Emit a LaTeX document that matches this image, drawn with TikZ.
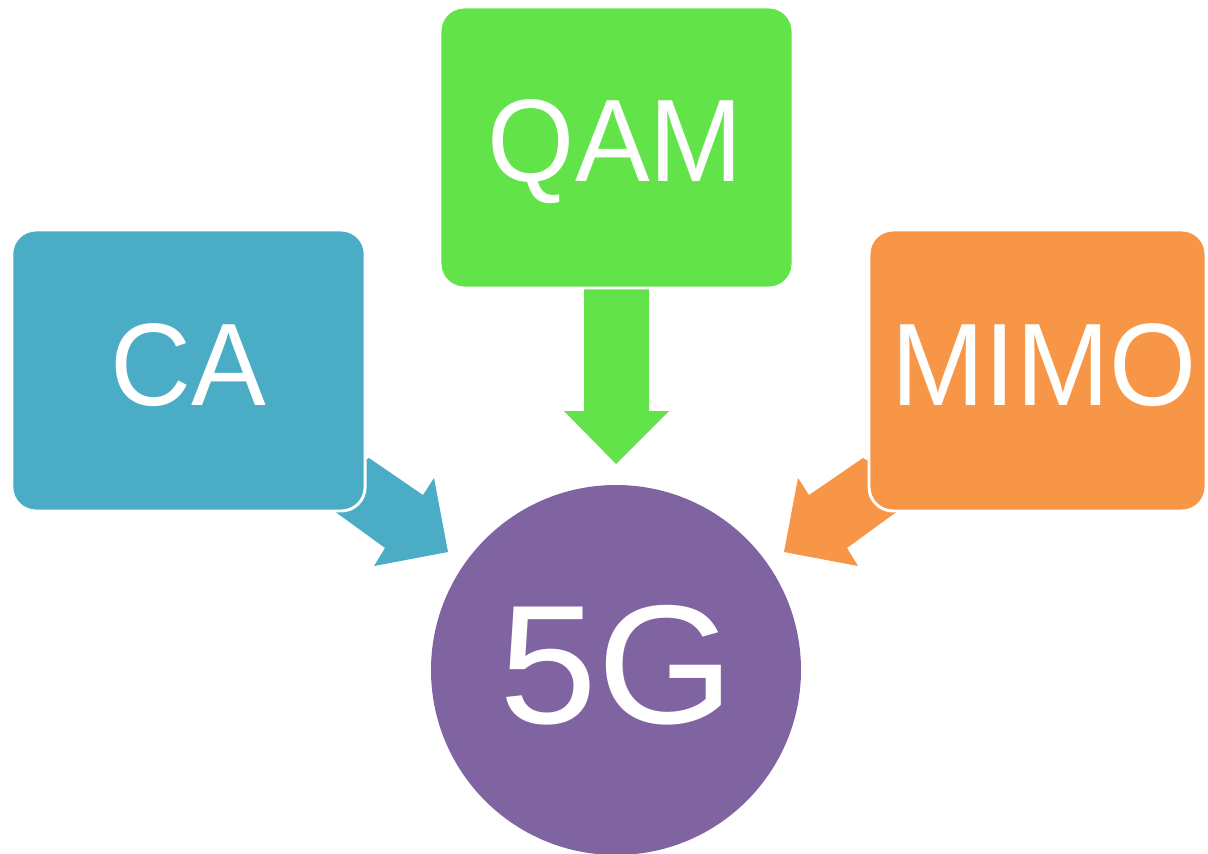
\documentclass[tikz,border=0pt]{standalone}
\usepackage{fontspec}
\setmainfont{Liberation Sans}
\newfontfamily\tilefont[FakeStretch=0.955]{Liberation Sans}
\newfontfamily\hubfont[FakeStretch=1.04]{Liberation Sans}
\definecolor{caBlue}{HTML}{4BACC6}
\definecolor{qamGreen}{HTML}{62E34A}
\definecolor{mimoOrange}{HTML}{F79646}
\definecolor{fgPurple}{HTML}{8064A2}
\begin{document}
\begin{tikzpicture}[x=0.75pt,y=-0.75pt,
  tile/.style={rounded corners=18pt, draw=white, line width=2.2pt, inner sep=0pt},
  hub/.style={circle, inner sep=0pt, minimum size=277.5pt},
  word/.style={text=white, anchor=base, inner sep=0pt, font=\tilefont\fontsize{88}{88}\selectfont},
  bigword/.style={text=white, anchor=base, inner sep=0pt, font=\hubfont\fontsize{127}{127}\selectfont}]
\useasboundingbox (0,0) rectangle (1208,854);

% block arrows feeding the hub
\fill[caBlue] (320,486) -- (369,458) -- (423,495) -- (434,478) -- (448,552)
  -- (374,566) -- (385,548) -- (330,508) -- cycle;
\fill[mimoOrange] (912,486) -- (863,458) -- (809,495) -- (798,478) -- (784,552)
  -- (858,566) -- (847,548) -- (902,508) -- cycle;
\fill[qamGreen] (584,280) -- (649,280) -- (649,411) -- (669,411) -- (616,464)
  -- (564,411) -- (584,411) -- cycle;

% source tiles
\node[tile, fill=caBlue, minimum width=265pt, minimum height=210.75pt] (ca) at (188.5,370.5) {};
\node[tile, fill=qamGreen, minimum width=264.75pt, minimum height=210.75pt] (qam) at (616.5,147.5) {};
\node[tile, fill=mimoOrange, minimum width=252.75pt, minimum height=210.75pt] (mimo) at (1037.5,370.5) {};

% hub
\node[hub, fill=fgPurple] (fg) at (616,670) {};

% labels
\node[word] (caT) at (188.5,405) {CA};
\node[word] (qamT) at (615.5,181) {QAM};
\node[word] (mimoT) at (1044,405) {MIMO};
\node[bigword] (fgT) at (617,723) {5G};
\end{tikzpicture}
\end{document}
